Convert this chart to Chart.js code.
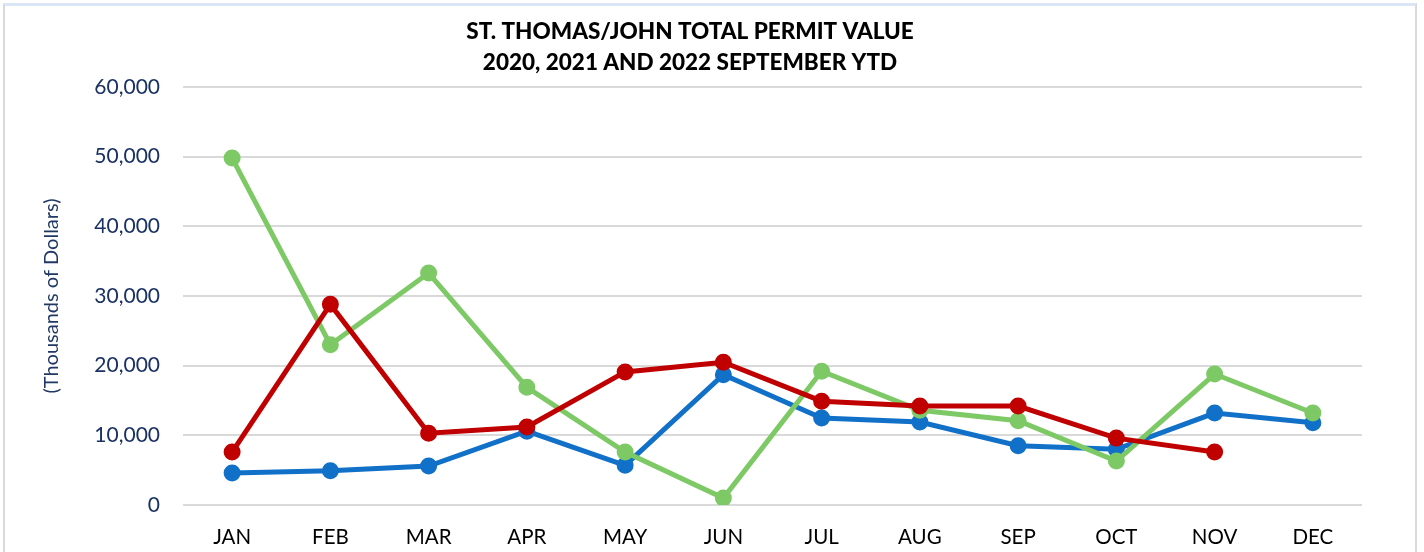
<!DOCTYPE html>
<html>
<head>
<meta charset="utf-8">
<script src="https://cdn.jsdelivr.net/npm/chart.js@4/dist/chart.umd.min.js"></script>
<style>
  html, body { margin: 0; padding: 0; background: #ffffff; }
  #wrap { position: relative; width: 1424px; height: 552px; overflow: hidden; }
  #frame { position: absolute; left: 3px; top: 3px; width: 1410px; height: 600px;
           border-left: 2px solid #d9d9d9; border-right: 2px solid #d9d9d9; border-top: 3px solid #dae6f5; }
  canvas { position: absolute; left: 0; top: 0; }
</style>
</head>
<body>
<div id="wrap">
  <div id="frame"></div>
  <canvas id="c" width="1424" height="552"></canvas>
</div>
<script>
const months = ['JAN','FEB','MAR','APR','MAY','JUN','JUL','AUG','SEP','OCT','NOV','DEC'];
const titleLines = ['ST. THOMAS/JOHN TOTAL PERMIT VALUE', '2020, 2021 AND 2022 SEPTEMBER YTD'];
const yAxisTitle = '(Thousands of Dollars)';
const yTicks = [0, 10000, 20000, 30000, 40000, 50000, 60000];
const values2020 = [4600, 4900, 5600, 10600, 5700, 18700, 12500, 11900, 8500, 8000, 13200, 11800];
const values2021 = [49800, 23000, 33300, 16900, 7600, 1000, 19200, 13600, 12100, 6300, 18800, 13200];
const values2022 = [7600, 28800, 10300, 11200, 19100, 20500, 14900, 14200, 14200, 9600, 7600, null];

const FONT = "Lato, 'Noto Sans', sans-serif";

function series(label, data, color, order) {
  return {
    label, data, order,
    borderColor: color, backgroundColor: color,
    pointBackgroundColor: color, pointBorderColor: color,
    borderWidth: 5, pointRadius: 6, pointHoverRadius: 6,
    tension: 0, spanGaps: false, fill: false
  };
}

new Chart(document.getElementById('c'), {
  type: 'line',
  data: {
    labels: months,
    datasets: [
      series('2020', values2020, '#1170c8', 2),
      series('2021', values2021, '#7dc965', 1),
      series('2022', values2022, '#c00000', 0)
    ]
  },
  options: {
    responsive: false,
    animation: false,
    layout: { padding: { left: 18, right: 62, top: 0, bottom: 0 } },
    plugins: {
      legend: { display: false },
      tooltip: { enabled: false },
      title: {
        display: true,
        text: titleLines,
        color: '#000000',
        font: { family: FONT, size: 22.5, weight: '900', lineHeight: 1.4 },
        padding: { top: 15.5, bottom: 8.5 }
      }
    },
    scales: {
      x: {
        offset: true,
        grid: { display: false, drawTicks: false },
        border: { display: false },
        ticks: { color: '#000000', font: { family: FONT, size: 20.5 }, padding: 20, maxRotation: 0 },
        afterFit: s => { s.height = 47; }
      },
      y: {
        min: 0, max: 60000,
        afterBuildTicks: s => { s.ticks = yTicks.map(v => ({ value: v })); },
        grid: { color: '#d9d9d9', lineWidth: 2, drawTicks: false },
        border: { display: false },
        ticks: {
          color: '#1a3263', font: { family: FONT, size: 21 }, padding: 23,
          callback: v => v.toLocaleString('en-US')
        },
        title: {
          display: true, text: yAxisTitle, color: '#1f3864',
          font: { family: FONT, size: 20 }, padding: { top: 22, bottom: 0 }
        },
        afterFit: s => { s.width = 165; }
      }
    }
  }
});
</script>
</body>
</html>
